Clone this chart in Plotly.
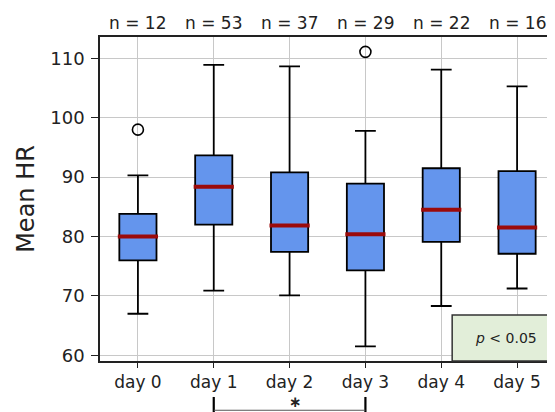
import plotly.graph_objects as go

categories = ["day 0", "day 1", "day 2", "day 3", "day 4", "day 5"]
counts = [12, 53, 37, 29, 22, 16]
q1 = [76.0, 82.0, 77.4, 74.3, 79.1, 77.1]
median = [80.0, 88.4, 81.85, 80.4, 84.5, 81.5]
q3 = [83.8, 93.65, 90.8, 88.9, 91.5, 91.0]
lower_whisker = [67.0, 70.9, 70.1, 61.5, 68.3, 71.25]
upper_whisker = [90.3, 108.9, 108.65, 97.8, 108.1, 105.3]
outlier_x = ["day 0", "day 3"]
outlier_y = [98.0, 111.1]
y_ticks = [60, 70, 80, 90, 100, 110]

FONT = "DejaVu Sans"
BOX_W = 0.49

fig = go.Figure()
fig.add_trace(go.Box(
    x=categories, q1=q1, median=median, q3=q3,
    lowerfence=lower_whisker, upperfence=upper_whisker,
    boxpoints=False, width=BOX_W, whiskerwidth=0.56,
    fillcolor="#6495ED", line=dict(color="black", width=1.8),
    showlegend=False, hoverinfo="skip",
))
fig.add_trace(go.Scatter(
    x=outlier_x, y=outlier_y, mode="markers",
    marker=dict(symbol="circle-open", size=11, color="black", line=dict(width=1.6)),
    showlegend=False, hoverinfo="skip",
))

shapes = []
for i, m in enumerate(median):
    shapes.append(dict(type="line", xref="x", yref="y", x0=i - BOX_W / 2 - 0.02, x1=i + BOX_W / 2 + 0.02,
                       y0=m, y1=m, line=dict(color="#9b0a0a", width=4), layer="above"))

# p-value box
shapes.append(dict(type="rect", xref="paper", yref="paper", x0=0.774, x1=1.02, y0=0.0, y1=0.142,
                   fillcolor="#e2eed9", line=dict(color="#333333", width=1.5), layer="above"))
# significance bracket between day 1 and day 3
shapes.append(dict(type="line", xref="x", yref="paper", x0=1, x1=1, y0=-0.111, y1=-0.16,
                   line=dict(color="black", width=2.2)))
shapes.append(dict(type="line", xref="x", yref="paper", x0=3, x1=3, y0=-0.111, y1=-0.16,
                   line=dict(color="black", width=2.2)))
shapes.append(dict(type="line", xref="x", yref="paper", x0=1, x1=3, y0=-0.152, y1=-0.152,
                   line=dict(color="#555555", width=1.2)))

annotations = []
for i, n in enumerate(counts):
    annotations.append(dict(x=i, y=1.042, xref="x", yref="paper", text=f"n = {n}",
                            showarrow=False, font=dict(family=FONT, size=17, color="#222"),
                            xanchor="center", yanchor="middle"))
annotations.append(dict(x=2.08, y=-0.1265, xref="x", yref="paper", text="<b>∗</b>", showarrow=False,
                        font=dict(family=FONT, size=15, color="#222"), xanchor="center", yanchor="middle"))
annotations.append(dict(x=0.893, y=0.071, xref="paper", yref="paper", text="<i>p</i> < 0.05",
                        showarrow=False, font=dict(family=FONT, size=14, color="#222"),
                        xanchor="center", yanchor="middle"))
annotations.append(dict(x=-0.163, y=0.5, xref="paper", yref="paper", text="Mean HR",
                        textangle=-90, showarrow=False, font=dict(family=FONT, size=24, color="#222"),
                        xanchor="center", yanchor="middle"))

# The page body adds an 8px offset; the figure is sized so the plot lands where the reference has it.
fig.update_layout(
    width=547, height=404,
    margin=dict(l=92, r=0, t=29, b=51),
    paper_bgcolor="white", plot_bgcolor="white",
    font=dict(family=FONT, color="#222"),
    shapes=shapes, annotations=annotations,
    xaxis=dict(type="category", categoryorder="array", categoryarray=categories,
               range=[-0.5, 5.5], showgrid=True, gridcolor="#c8c8c8", gridwidth=1,
               showline=True, linecolor="#222", linewidth=1.5, mirror=True,
               ticks="outside", ticklen=5, tickcolor="#222", tickwidth=1,
               tickfont=dict(family=FONT, size=17, color="#222"), zeroline=False),
    yaxis=dict(range=[59.04, 113.6], tickvals=y_ticks, showgrid=True, gridcolor="#c8c8c8",
               gridwidth=1, showline=True, linecolor="#222", linewidth=1.5,
               ticks="outside", ticklen=7, tickcolor="#222", tickwidth=1,
               ticklabelstandoff=3,
               tickfont=dict(family=FONT, size=18, color="#222"), zeroline=False),
)

fig.write_html("out.html")
